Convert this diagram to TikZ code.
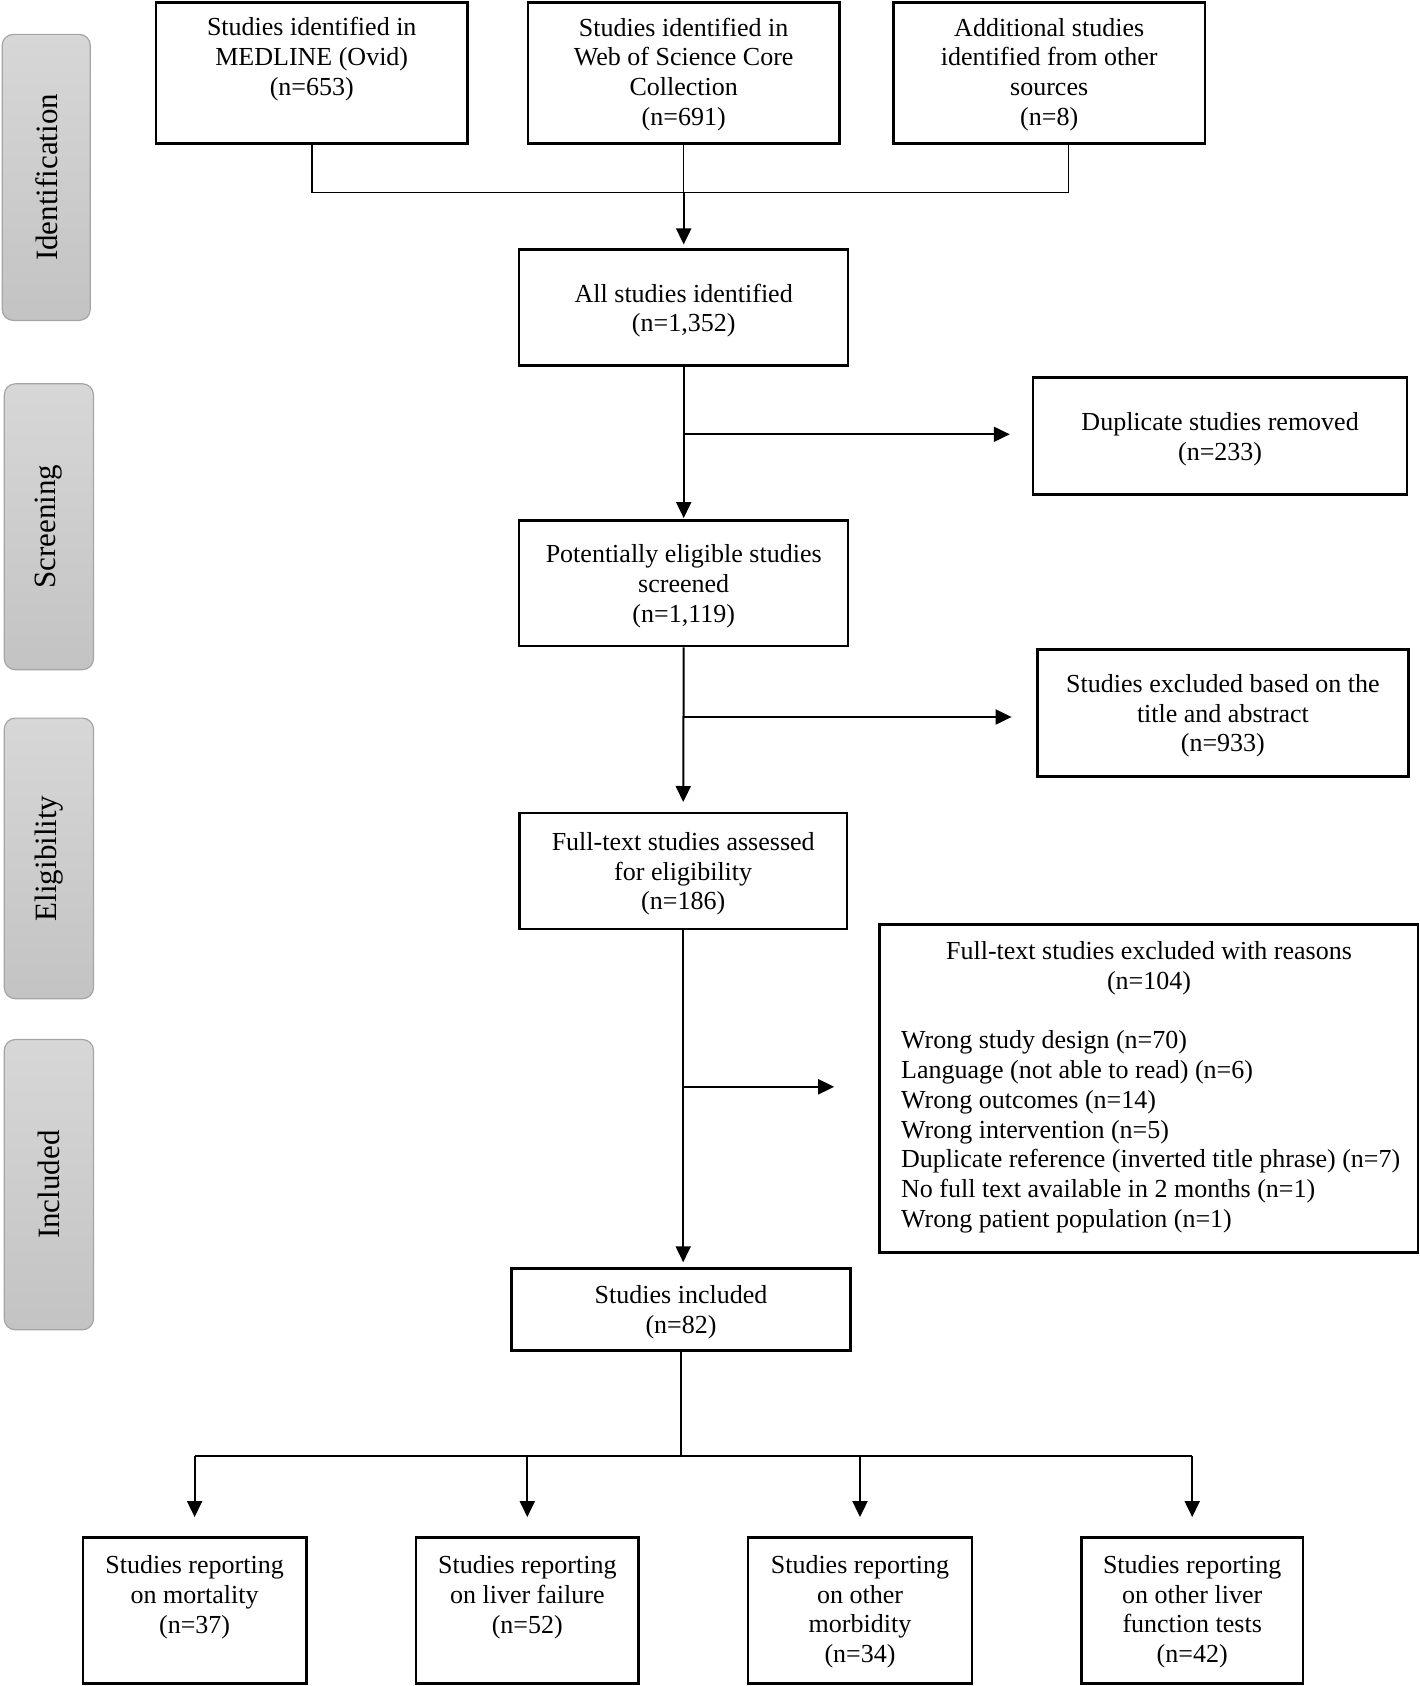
\documentclass[tikz,border=0pt]{standalone}
\usepackage{fontspec}
\setmainfont{Liberation Serif}
\usetikzlibrary{arrows.meta}
\definecolor{sidetop}{RGB}{215,215,215}
\definecolor{sidebot}{RGB}{195,195,195}
\definecolor{sideedge}{RGB}{165,165,165}
\begin{document}
\begin{tikzpicture}[x=1pt,y=-1pt,
  box/.style={draw, line width=2.5pt, inner sep=0pt},
  txt/.style={font=\fontsize{26}{29.8}\selectfont, align=center, inner sep=0pt, yshift=-3pt},
  side/.style={draw=sideedge, line width=1.2pt, rounded corners=11pt, top color=sidetop, bottom color=sidebot, inner sep=0pt, font=\fontsize{31}{36}\selectfont},
  arr/.style={-{Triangle[length=16pt,width=15pt]}, line width=2pt},
  ln/.style={line width=1.6pt},
  thinln/.style={line width=1.2pt}]
\useasboundingbox (0,0) rectangle (1419,1686);

% side labels
\node[side, minimum width=88.1pt, minimum height=286pt] (sI) at (46.25,177.4) {\rotatebox{90}{Identification}};
\node[side, minimum width=89.2pt, minimum height=285.9pt] (sS) at (48.9,526.75) {\rotatebox{90}{Screening}};
\node[side, minimum width=89.2pt, minimum height=280.6pt] (sE) at (48.9,858.4) {\rotatebox{90}{Eligibility}};
\node[side, minimum width=89.2pt, minimum height=290.3pt] (sN) at (48.9,1184.65) {\rotatebox{90}{Included}};

% boxes
\node[box, minimum width=311.7pt, minimum height=141pt] (A) at (311.75,73) {};
\node[box, minimum width=311.8pt, minimum height=141pt] (B) at (683.7,73) {};
\node[box, minimum width=311.8pt, minimum height=141pt] (C) at (1049.2,73) {};
\node[box, minimum width=329pt, minimum height=116pt] (D) at (683.7,307.7) {};
\node[box, minimum width=374.2pt, minimum height=117.2pt] (E) at (1220.1,435.9) {};
\node[box, minimum width=329pt, minimum height=125.8pt] (F) at (683.7,583.2) {};
\node[box, minimum width=370.9pt, minimum height=126.9pt] (G) at (1222.9,712.8) {};
\node[box, minimum width=327.9pt, minimum height=116.1pt] (H) at (683.2,870.8) {};
\node[box, minimum width=538.5pt, minimum height=327.9pt] (I) at (1148.7,1088.5) {};
\node[box, minimum width=338.6pt, minimum height=81.7pt] (J) at (681,1309.4) {};
\node[box, minimum width=223.6pt, minimum height=146.2pt] (K1) at (194.6,1610.4) {};
\node[box, minimum width=222.6pt, minimum height=146.2pt] (K2) at (527.3,1610.4) {};
\node[box, minimum width=223.6pt, minimum height=146.2pt] (K3) at (860,1610.4) {};
\node[box, minimum width=221.4pt, minimum height=146.2pt] (K4) at (1192.2,1610.4) {};

% texts
\node[txt] (tA) at (311.75,56.4) {Studies identified in\\MEDLINE (Ovid)\\(n=653)};
\node[txt] (tB) at (683.7,71.5) {Studies identified in\\Web of Science Core\\Collection\\(n=691)};
\node[txt] (tC) at (1049.2,71.5) {Additional studies\\identified from other\\sources\\(n=8)};
\node[txt] (tD) at (D.center) {All studies identified\\(n=1,352)};
\node[txt] (tE) at (E.center) {Duplicate studies removed\\(n=233)};
\node[txt] (tF) at (F.center) {Potentially eligible studies\\screened\\(n=1,119)};
\node[txt] (tG) at (G.center) {Studies excluded based on the\\title and abstract\\(n=933)};
\node[txt] (tH) at (H.center) {Full-text studies assessed\\for eligibility\\(n=186)};
\node[txt] (tI) at (1149,965.4) {Full-text studies excluded with reasons\\(n=104)};
\node[txt, align=left, anchor=west] (tI2) at (901,1128.8) {Wrong study design (n=70)\\Language (not able to read) (n=6)\\Wrong outcomes (n=14)\\Wrong intervention (n=5)\\Duplicate reference (inverted title phrase) (n=7)\\No full text available in 2 months (n=1)\\Wrong patient population (n=1)};
\node[txt] (tJ) at (J.center) {Studies included\\(n=82)};
\node[txt] (tK1) at (194.6,1594.2) {Studies reporting\\on mortality\\(n=37)};
\node[txt] (tK2) at (527.3,1594.2) {Studies reporting\\on liver failure\\(n=52)};
\node[txt] (tK3) at (860,1608.7) {Studies reporting\\on other\\morbidity\\(n=34)};
\node[txt] (tK4) at (1192.2,1608.7) {Studies reporting\\on other liver\\function tests\\(n=42)};

% connectors: identification
\coordinate (jn) at (B.south |- {(0,192.4)});
\coordinate (cdrop) at ([xshift=19.3pt]C.south);
\draw[ln] (A.south) |- (jn);
\draw[ln] (cdrop) |- (jn);
\draw[thinln] (B.south) -- (jn);
\draw[arr, shorten >=4pt] (jn) -- (D.north);

% screening
\draw[arr, shorten >=1pt] (D.south) -- (F.north);
\coordinate (b1) at (D.south |- {(0,434.3)});
\draw[arr, shorten >=22pt] (b1) -- (b1 -| E.west);

\draw[arr, shorten >=9.5pt] (F.south) -- (H.north);
\coordinate (b2) at (F.south |- {(0,717)});
\draw[arr, shorten >=24.6pt] (b2) -- (b2 -| G.west);

\draw[arr, shorten >=5pt] (H.south) -- (H.south |- J.north);
\coordinate (b3) at (H.south |- {(0,1086.8)});
\draw[arr, shorten >=44pt] (b3) -- (b3 -| I.west);

% included split
\coordinate (jb) at (J.south |- {(0,1456)});
\draw[thinln] (J.south) -- (jb);
\draw[ln] (K1.north |- jb) -- (K4.north |- jb);
\draw[arr, shorten >=19pt] (K1.north |- jb) -- (K1.north);
\draw[arr, shorten >=19pt] (K2.north |- jb) -- (K2.north);
\draw[arr, shorten >=19pt] (K3.north |- jb) -- (K3.north);
\draw[arr, shorten >=19pt] (K4.north |- jb) -- (K4.north);
\end{tikzpicture}
\end{document}
